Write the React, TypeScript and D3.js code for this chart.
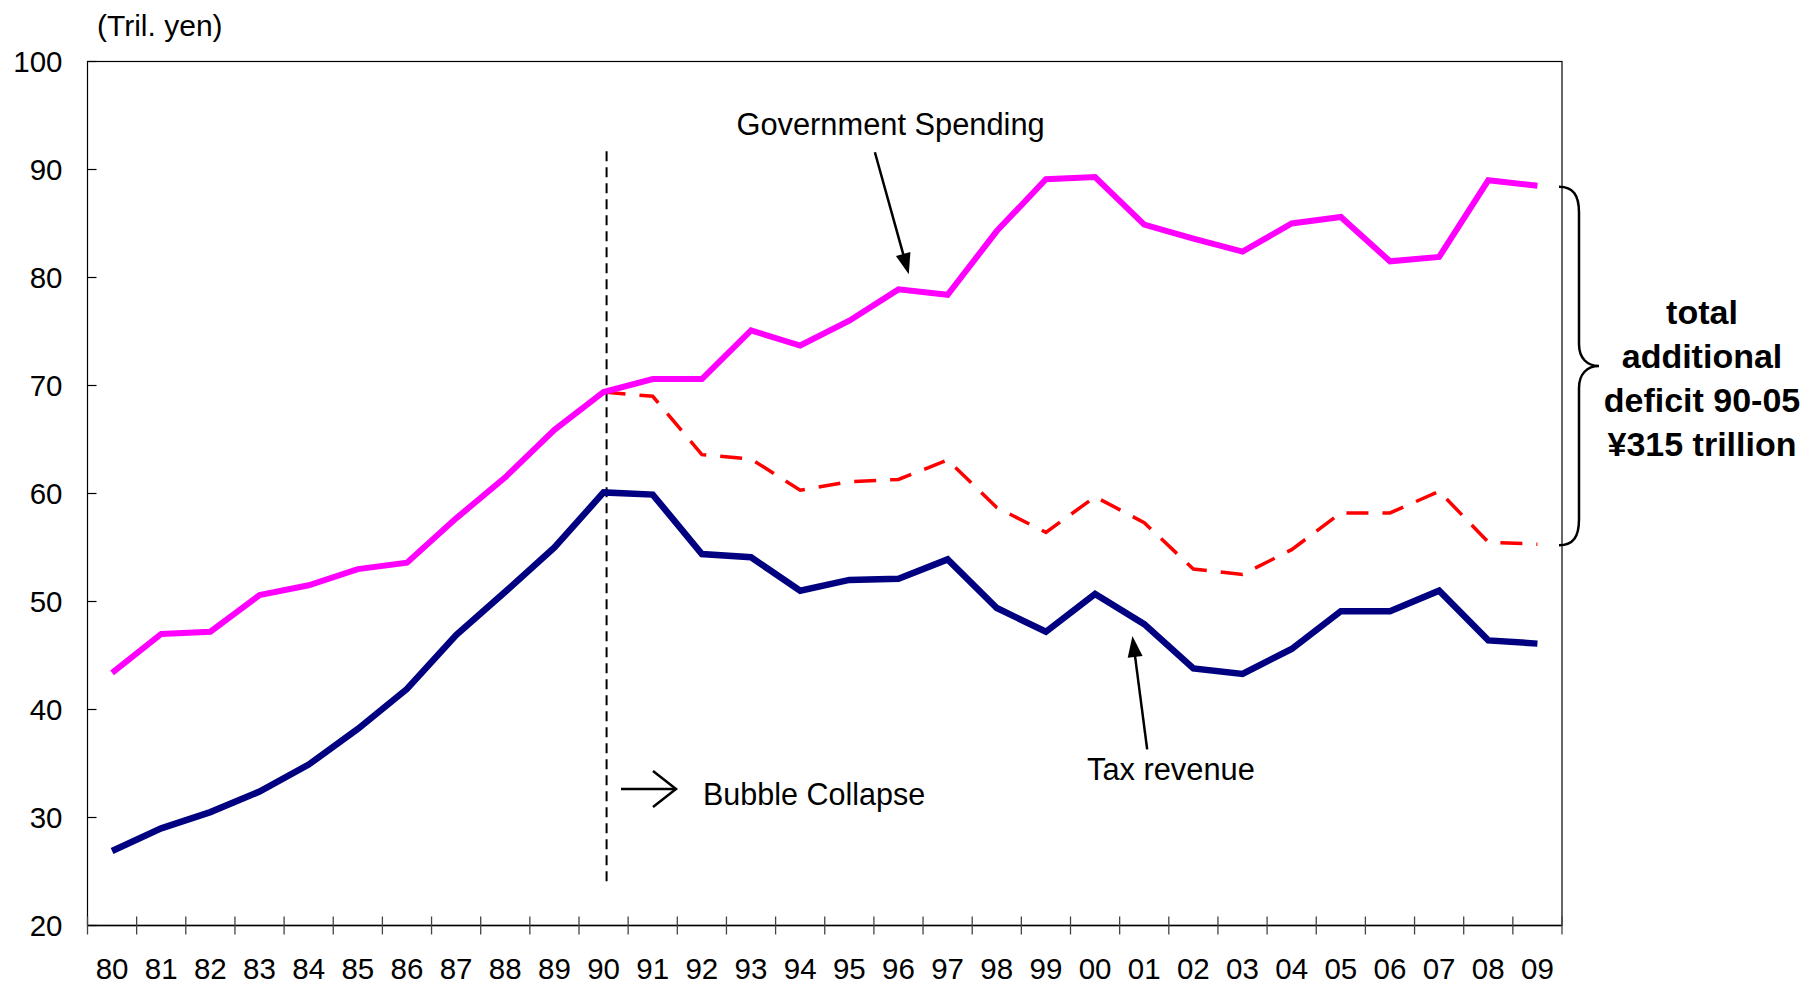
import React from 'react';
import * as d3 from 'd3';

const years = ['80', '81', '82', '83', '84', '85', '86', '87', '88', '89', '90', '91', '92', '93', '94', '95', '96', '97', '98', '99', '00', '01', '02', '03', '04', '05', '06', '07', '08', '09'];

const spending = [43.4, 47.0, 47.2, 50.6, 51.5, 53.0, 53.6, 57.7, 61.5, 65.9, 69.4, 70.6, 70.6, 75.1, 73.7, 76.0, 78.9, 78.4, 84.3, 89.1, 89.3, 84.9, 83.6, 82.4, 85.0, 85.6, 81.5, 81.9, 89.0, 88.5];

const taxRevenue = [26.9, 29.0, 30.5, 32.4, 34.9, 38.2, 41.9, 46.9, 50.9, 55.0, 60.1, 59.9, 54.4, 54.1, 51.0, 52.0, 52.1, 53.9, 49.4, 47.2, 50.7, 47.9, 43.8, 43.3, 45.6, 49.1, 49.1, 51.0, 46.4, 46.1];

// dashed line only from 90 onwards
const dashedYears = ['90', '91', '92', '93', '94', '95', '96', '97', '98', '99', '00', '01', '02', '03', '04', '05', '06', '07', '08', '09'];
const dashedValues = [69.4, 69.0, 63.6, 63.2, 60.3, 61.1, 61.3, 63.1, 58.7, 56.4, 59.7, 57.3, 53.0, 52.5, 54.8, 58.2, 58.2, 60.2, 55.5, 55.3];

const yTicks = [20, 30, 40, 50, 60, 70, 80, 90, 100];
const noteLines = ['total', 'additional', 'deficit 90-05', '¥315 trillion'];

const W = 1807;
const H = 984;
const FONT = '"Liberation Sans", Arial, sans-serif';

function arrowHead(x1: number, y1: number, x2: number, y2: number, len = 20, half = 7) {
  const a = Math.atan2(y2 - y1, x2 - x1);
  const bx = x2 - len * Math.cos(a);
  const by = y2 - len * Math.sin(a);
  const px = -Math.sin(a) * half;
  const py = Math.cos(a) * half;
  return `${x2},${y2} ${bx + px},${by + py} ${bx - px},${by - py}`;
}

export default function App() {
  const left = 87.5, right = 1562, top = 61.5, bottom = 925.5;

  const x = d3.scaleBand<string>().domain(years).range([left, right]).padding(0);
  const xc = (d: string) => (x(d) as number) + x.bandwidth() / 2;
  const y = d3.scaleLinear().domain([20, 100]).range([bottom, top]);

  const line = d3.line<[string, number]>().x(d => xc(d[0])).y(d => y(d[1]));

  const spendPts = years.map((d, i) => [d, spending[i]] as [string, number]);
  const taxPts = years.map((d, i) => [d, taxRevenue[i]] as [string, number]);
  const dashPts = dashedYears.map((d, i) => [d, dashedValues[i]] as [string, number]);

  const bw = x.bandwidth();
  const boundaries = d3.range(years.length + 1).map(i => left + i * bw);

  // bubble marker
  const bx = xc('90') + 3;

  // government spending arrow
  const gA = { x1: left + 16.02 * bw, y1: y(91.6), x2: left + 16.71 * bw, y2: y(80.3) };
  // tax arrow
  const tA = { x1: left + 21.56 * bw, y1: y(36.3), x2: left + 21.26 * bw, y2: y(46.8) };

  // brace for deficit
  const yTop = y(spending[spending.length - 1]) + 1;
  const yBot = y(dashedValues[dashedValues.length - 1]) + 1;
  const mid = (yTop + yBot) / 2;
  const b0 = right - 3, b1 = right + 17, b2 = right + 37;
  const brace = `M${b0},${yTop} C${b0 + 14},${yTop} ${b1},${yTop + 8} ${b1},${yTop + 26} L${b1},${mid - 22} C${b1},${mid - 8} ${b1 + 8},${mid} ${b2},${mid} C${b1 + 8},${mid} ${b1},${mid + 8} ${b1},${mid + 22} L${b1},${yBot - 26} C${b1},${yBot - 8} ${b0 + 14},${yBot} ${b0},${yBot}`;

  return (
    <svg width={W} height={H} style={{ position: 'absolute', left: 0, top: 0, display: 'block', background: '#fff' }} fontFamily={FONT}>
      <rect x={0} y={0} width={W} height={H} fill="#fff" />

      {/* frame */}
      <rect x={left} y={top} width={right - left} height={bottom - top} fill="none" stroke="#000" strokeWidth={1.2} />

      {/* y ticks */}
      {yTicks.map(t => (
        <g key={t}>
          <line x1={left} x2={left + 9} y1={y(t)} y2={y(t)} stroke="#000" strokeWidth={1.2} />
          <text x={62.5} y={y(t)} textAnchor="end" dominantBaseline="central" fontSize={29.5} fill="#000">{t}</text>
        </g>
      ))}
      <text x={97} y={36} fontSize={30} fill="#000">(Tril. yen)</text>

      {/* x axis */}
      <line x1={left} x2={right} y1={bottom} y2={bottom} stroke="#000" strokeWidth={1.6} />
      {boundaries.map((b, i) => (
        <line key={i} x1={b} x2={b} y1={bottom - 9} y2={bottom + 9} stroke="#444" strokeWidth={1.3} />
      ))}
      {years.map(d => (
        <text key={d} x={xc(d)} y={978.5} textAnchor="middle" fontSize={29.5} fill="#000">{d}</text>
      ))}

      {/* bubble collapse marker */}
      <line x1={bx} x2={bx} y1={y(91.7)} y2={y(24.0)} stroke="#000" strokeWidth={2} strokeDasharray="10 6" />
      <line x1={621} x2={676} y1={789} y2={789} stroke="#000" strokeWidth={2.5} />
      <polyline points="653,771 676,789 653,807" fill="none" stroke="#000" strokeWidth={2.5} />
      <text x={703} y={804.5} fontSize={30.5} fill="#000">Bubble Collapse</text>

      {/* series */}
      <path d={line(dashPts) || ''} fill="none" stroke="#FF0000" strokeWidth={3.5} strokeDasharray="22 14" />
      <path d={line(taxPts) || ''} fill="none" stroke="#000080" strokeWidth={6.5} strokeLinejoin="miter" />
      <path d={line(spendPts) || ''} fill="none" stroke="#FF00FF" strokeWidth={6} strokeLinejoin="miter" />

      {/* annotations */}
      <text x={736.5} y={134.5} fontSize={30.8} fill="#000">Government Spending</text>
      <line x1={gA.x1} y1={gA.y1} x2={gA.x1 + (gA.x2 - gA.x1) * 0.85} y2={gA.y1 + (gA.y2 - gA.y1) * 0.85} stroke="#000" strokeWidth={2.5} />
      <polygon points={arrowHead(gA.x1, gA.y1, gA.x2, gA.y2, 21, 7.5)} fill="#000" />

      <text x={1087} y={779.5} fontSize={30.8} fill="#000">Tax revenue</text>
      <line x1={tA.x1} y1={tA.y1} x2={tA.x1 + (tA.x2 - tA.x1) * 0.85} y2={tA.y1 + (tA.y2 - tA.y1) * 0.85} stroke="#000" strokeWidth={2.5} />
      <polygon points={arrowHead(tA.x1, tA.y1, tA.x2, tA.y2, 21, 7.5)} fill="#000" />

      <path d={brace} fill="none" stroke="#000" strokeWidth={2.5} />
      {noteLines.map((t, i) => (
        <text key={t} x={1702} y={323.5 + i * 44} textAnchor="middle" fontSize={34} fontWeight="bold" fill="#000">{t}</text>
      ))}
    </svg>
  );
}
